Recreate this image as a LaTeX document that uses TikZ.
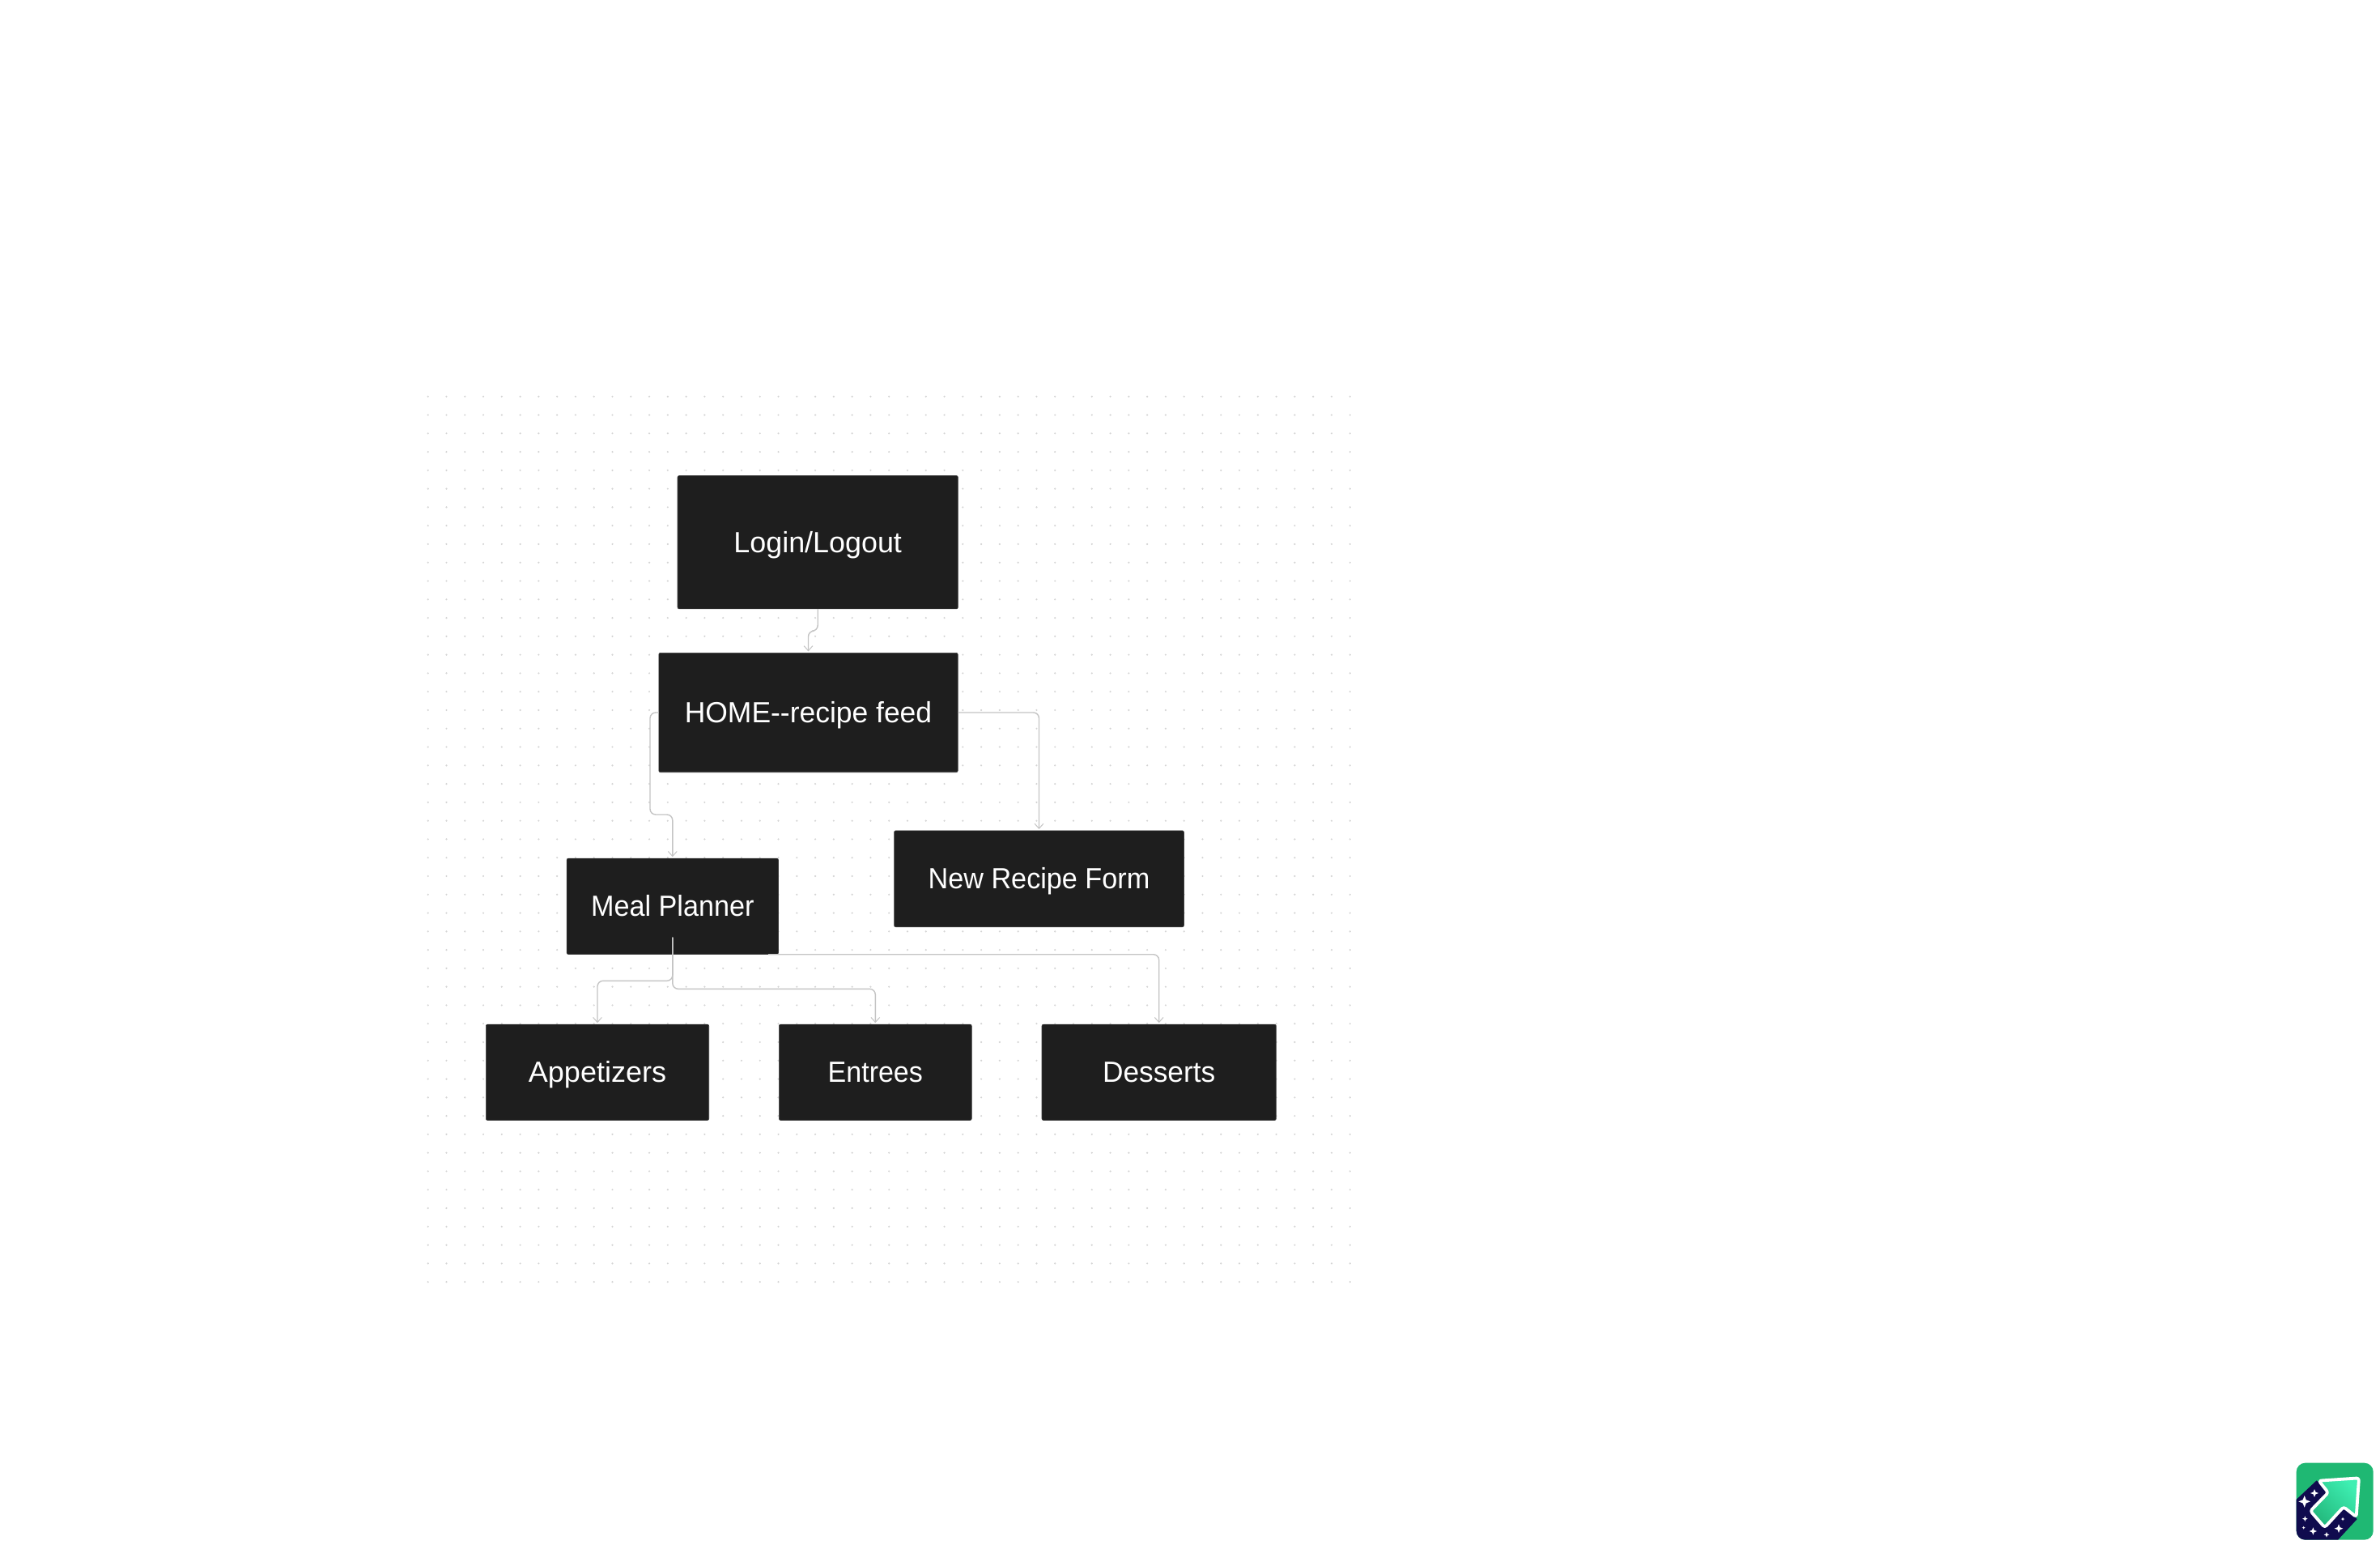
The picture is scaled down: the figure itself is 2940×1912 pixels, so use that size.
\documentclass[tikz,border=0pt]{standalone}
\usepackage{fontspec}
\usepackage{graphicx}
\setmainfont{Liberation Sans}
\usetikzlibrary{arrows.meta}
\definecolor{boxfill}{HTML}{1E1E1E}
\definecolor{boxedge}{HTML}{3C3C3C}
\definecolor{connline}{HTML}{C4C4C4}
\definecolor{griddotc}{HTML}{D4D4D4}
\definecolor{logogreen}{HTML}{1FB873}
\definecolor{logonavy}{HTML}{100B4E}
\definecolor{logotip}{HTML}{3EEFB2}
\definecolor{logobase}{HTML}{23B87C}
\newcommand{\fitw}[2]{\scalebox{#1}[1]{#2}}
\tikzset{
  box/.style n args={2}{draw=boxedge,line width=0.3pt,fill=boxfill,text=white,rounded corners=1pt,
    inner sep=0pt,minimum width=#1*0.5pt-0.3pt,minimum height=#2*0.5pt-0.3pt,
    text height=15pt,text depth=2.5pt,
    font=\fontsize{18}{22}\selectfont},
  conn/.style={draw=connline,line width=0.7pt,rounded corners=3.5pt,
    -{Straight Barb[length=3pt,width=5.4pt,line width=0.5pt]},shorten >=0.8pt},
  griddot/.style={fill=griddotc,draw=none},
  star4/.style={fill=white,draw=none}
}
\begin{document}
\begin{tikzpicture}[x=0.5pt,y=-0.5pt]
\useasboundingbox (0,0) rectangle (2940,1912);
\fill[white] (0,0) rectangle (2940,1912);
% dotted canvas
\foreach \i in {0,...,50}{\foreach \j in {0,...,48}{
  \fill[griddot] ({528.7+22.78*\i},{489.7+22.78*\j}) circle[radius=0.6pt];
}}
% nodes
\node[box={347}{165}] (login) at (1010.2,669.7) {\fitw{0.997}{Login/Logout}};
\node[box={370}{148}] (home) at (998.5,880) {\fitw{0.985}{HOME-{}-recipe feed}};
\node[box={358.5}{119.5}] (form) at (1283.5,1085.3) {\fitw{0.95}{New Recipe Form}};
\node[box={262}{119}] (meal) at (830.8,1119.3) {\fitw{0.95}{Meal Planner}};
\node[box={276}{119}] (appet) at (738,1324.3) {\fitw{1.0}{Appetizers}};
\node[box={238.5}{119}] (entree) at (1081.3,1324.3) {\fitw{0.945}{Entrees}};
\node[box={290}{119}] (dessert) at (1431.7,1324.3) {\fitw{0.98}{Desserts}};
% free connector ends on the Meal Planner box
\coordinate (mealout) at (830.8,1157.7);
\coordinate (mealcorner) at (949,1178.7);
% connectors
\draw[conn] (login.south) -- ++(0,27) -| (home.north);
\draw[conn] (home.west) -| ++(-10.5,126) -| (meal.north);
\draw[conn] (home.east) -| (form.north);
\draw[conn] (mealout) -- ++(0,53.6) -| (appet.north);
\draw[conn] (mealout) -- ++(0,63.6) -| (entree.north);
\draw[conn] (mealcorner) -| (dessert.north);
% logo badge
\begin{scope}[shift={(2810,1790)},x=0.16667pt,y=-0.16667pt]
  \fill[logogreen,rounded corners=5.5pt] (80,50) rectangle (365,335);
  \begin{scope}
    \clip[rounded corners=5.5pt] (80,50) rectangle (365,335);
    \fill[logonavy] (70,195) -- (155,115) -- (305,258) -- (225,345) -- (70,345) -- cycle;
  \end{scope}
  \draw[white,line width=1.9pt,line join=round,rounded corners=1.5pt,bottom color=logobase,top color=logotip,shading angle=-45]
    (163,116) -- (312,106) -- (302,250) -- (255,213) -- (185,289) -- (132,228) -- (198,160) -- cycle;
  \foreach \cx/\cy/\s in {110/193/22,147/162/15,112/257/10,107/290/6,142/303/14,237/293/16,192/316/10,252/258/7}{
    \fill[star4] (\cx,\cy-\s) -- (\cx+0.28*\s,\cy-0.28*\s) -- (\cx+\s,\cy) -- (\cx+0.28*\s,\cy+0.28*\s)
      -- (\cx,\cy+\s) -- (\cx-0.28*\s,\cy+0.28*\s) -- (\cx-\s,\cy) -- (\cx-0.28*\s,\cy-0.28*\s) -- cycle;
  }
\end{scope}
\end{tikzpicture}
\end{document}
